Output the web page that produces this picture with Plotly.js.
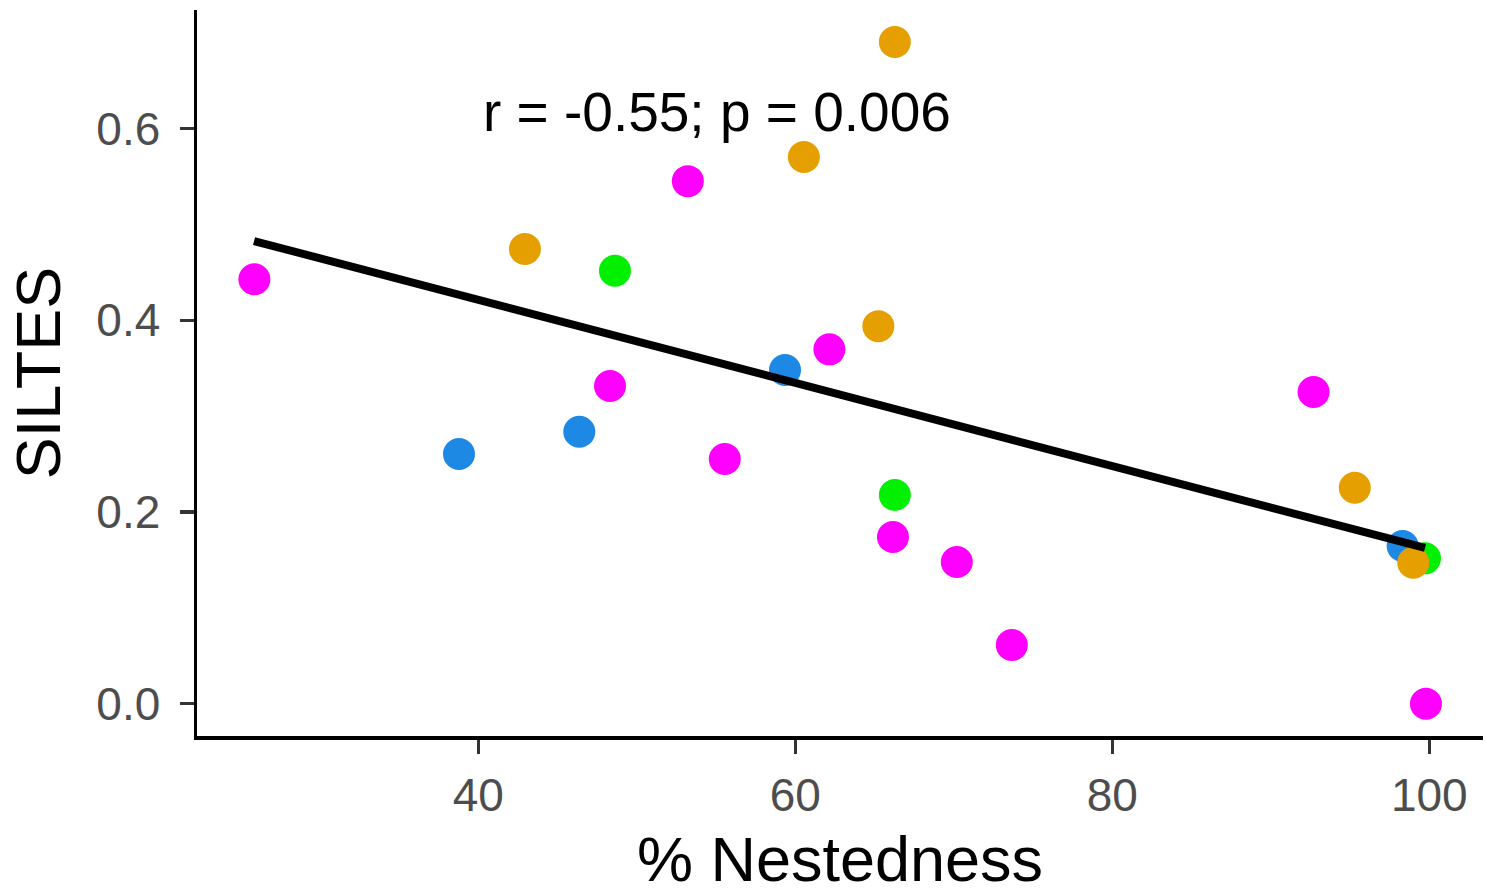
<!DOCTYPE html>
<html>
<head>
<meta charset="utf-8">
<script src="https://cdn.plot.ly/plotly-3.0.1.min.js"></script>
<style>
  html, body { margin: 0; padding: 0; background: #ffffff; }
  #chart { width: 1486px; height: 894px; }
</style>
</head>
<body>
<div id="chart"></div>
<script>
// Data
const blueX    = [38.78, 46.37, 59.35, 98.32];
const blueY    = [0.2606, 0.2838, 0.3482, 0.1646];
const greenX   = [48.62, 66.28, 99.73];
const greenY   = [0.4518, 0.2178, 0.1517];
const magentaX = [25.87, 48.31, 53.22, 55.55, 62.15, 66.16, 70.19, 73.66, 92.70, 99.79];
const magentaY = [0.4429, 0.3315, 0.5453, 0.2554, 0.3698, 0.1740, 0.1479, 0.0613, 0.3253, 0.0000];
const orangeX  = [42.94, 60.54, 65.24, 66.28, 95.30, 98.99];
const orangeY  = [0.4745, 0.5705, 0.3940, 0.6905, 0.2254, 0.1471];
const fitX     = [25.85, 99.73];
const fitY     = [0.4828, 0.1625];
const xTicks   = [40, 60, 80, 100];
const yTicks   = [0.0, 0.2, 0.4, 0.6];
const yTickText = ["0.0", "0.2", "0.4", "0.6"];
const statText = "r = -0.55; p = 0.006";
const xTitle = "% Nestedness";
const yTitle = "SILTES";

const FONT = "Liberation Sans, Arial, sans-serif";
const MS = 32;

function pts(x, y, color) {
  return { x: x, y: y, type: "scatter", mode: "markers", hoverinfo: "skip",
    marker: { color: color, size: MS, line: { width: 0 } }, showlegend: false };
}

const data = [
  pts(blueX, blueY, "#1E88E5"),
  pts(greenX, greenY, "#00F000"),
  pts(magentaX, magentaY, "#FF00FF"),
  pts(orangeX, orangeY, "#E69F00"),
  { x: fitX, y: fitY, type: "scatter", mode: "lines", hoverinfo: "skip",
    line: { color: "#000000", width: 8 }, showlegend: false }
];

const layout = {
  width: 1486, height: 894,
  paper_bgcolor: "#ffffff", plot_bgcolor: "#ffffff",
  margin: { l: 197, r: 3, t: 10, b: 158, pad: 0 },
  font: { family: FONT, color: "#000000" },
  showlegend: false,
  xaxis: {
    range: [22.25, 103.39], showgrid: false, zeroline: false,
    showline: true, linecolor: "#000000", linewidth: 3.5,
    ticks: "outside", ticklen: 14, tickwidth: 3.5, tickcolor: "#333333",
    tickvals: xTicks, ticktext: xTicks.map(String),
    tickfont: { family: FONT, size: 46, color: "#4D4D4D" },
    ticklabelstandoff: 2,
    title: { text: xTitle, font: { family: FONT, size: 63, color: "#000000" }, standoff: 18 },
    automargin: false
  },
  yaxis: {
    range: [-0.0337, 0.7239], showgrid: false, zeroline: false,
    showline: true, linecolor: "#000000", linewidth: 3.5,
    ticks: "outside", ticklen: 14, tickwidth: 3.5, tickcolor: "#333333",
    tickvals: yTicks, ticktext: yTickText,
    tickfont: { family: FONT, size: 46, color: "#4D4D4D" },
    ticklabelstandoff: 10,
    title: { text: yTitle, font: { family: FONT, size: 63, color: "#000000" }, standoff: 16 },
    automargin: false
  },
  annotations: [{
    x: 55.09, y: 0.617, xref: "x", yref: "y", text: statText, showarrow: false,
    xanchor: "center", yanchor: "middle",
    font: { family: FONT, size: 55, color: "#000000" }
  }]
};

Plotly.newPlot("chart", data, layout, { staticPlot: true, displayModeBar: false });
</script>
</body>
</html>
